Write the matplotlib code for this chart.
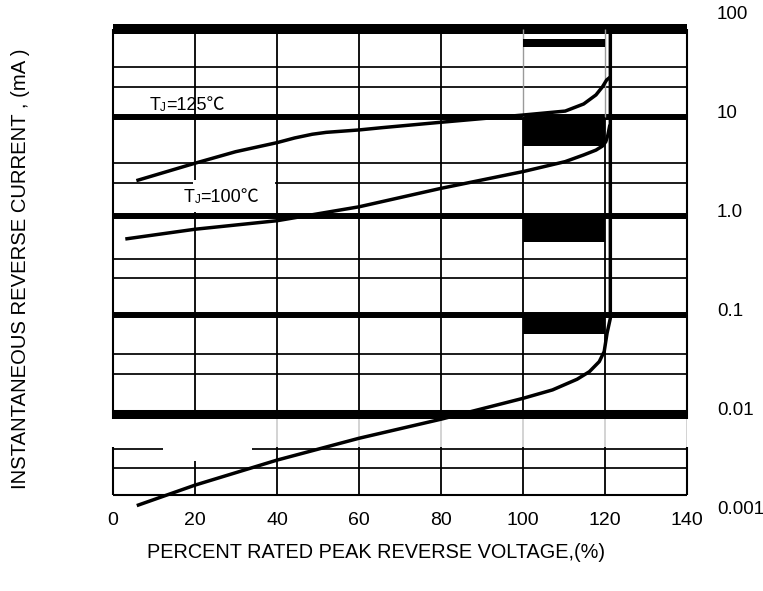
import numpy as np
import matplotlib
matplotlib.use("Agg")
import matplotlib.pyplot as plt

plt.rcParams['lines.solid_capstyle'] = 'butt'
FAM = ['Liberation Sans', 'Noto Sans CJK SC', 'DejaVu Sans']

# ---------------- data ----------------
x_ticks = [0, 20, 40, 60, 80, 100, 120, 140]
x_tick_labels = ['0', '20', '40', '60', '80', '100', '120', '140']
y_label_vals = [100, 10, 1, 0.1, 0.01, 0.001]
y_label_text = ['100', '10', '1.0', '0.1', '0.01', '0.001']

# T_J = 25 C curve (bottom), rises vertically near 121 %
x_25 = [5.8, 20, 40, 60, 80, 100, 107.2, 113.2, 116.2, 118.6, 119.8, 120.5, 121.3, 121.3]
i_25 = [0.00118, 0.0019, 0.0034, 0.00565, 0.0088, 0.0143, 0.0174, 0.0223, 0.0266,
        0.0336, 0.0424, 0.065, 0.092, 80]

# T_J = 100 C curve
x_100 = [3.0, 20, 40, 60, 80, 100, 110.3, 114.8, 117.8, 119.4, 120.2, 120.7, 121.2]
i_100 = [0.582, 0.73, 0.89, 1.23, 1.89, 2.79, 3.52, 4.11, 4.6, 5.06, 5.6, 6.54, 8.3]

# T_J = 125 C curve
x_125 = [5.7, 20, 29.9, 40, 44.3, 48.6, 52, 60, 65.6, 80, 100, 110.3, 114.8, 117.8,
         119.4, 120.4, 121.2]
i_125 = [2.26, 3.39, 4.43, 5.47, 6.1, 6.65, 6.95, 7.35, 7.75, 8.79, 10.4, 11.4, 13.45,
         16.6, 20.1, 23.5, 25.0]

# grid of the printed chart paper
major_lines = [10, 1, 0.1, 0.01]
major_widths = [4.3, 4.3, 4.3, 6.5]
minor_lines = [31.8, 20.0, 3.43, 2.16, 0.366, 0.233, 0.0398, 0.0254, 0.0044, 0.00281]
v_lines = [20, 40, 60, 80]
v_lines_split = [100, 120]

# black blocks between 100 % and 120 %
box_x = [100, 120]
box_lo = [50.7, 5.06, 0.547, 0.064]
box_hi = [61, 10, 1.0, 0.1]

Y_LO, Y_HI = 0.00151, 76.9

# ---------------- figure ----------------
fig = plt.figure(figsize=(7.63, 5.91), dpi=100)
ax = fig.add_axes([113 / 763, 96 / 591, 574 / 763, 466 / 591])
ax.set_yscale('log')
ax.set_xlim(0, 140)
ax.set_ylim(Y_LO, Y_HI)
for s in ax.spines.values():
    s.set_visible(False)
ax.yaxis.set_major_locator(matplotlib.ticker.NullLocator())
ax.yaxis.set_minor_locator(matplotlib.ticker.NullLocator())
ax.set_xticks(x_ticks)
ax.set_xticklabels(x_tick_labels, fontsize=14, family=FAM)
ax.tick_params(axis='x', length=0, pad=12)

# horizontal rules
ax.hlines(minor_lines, 0, 140, color='k', lw=1.25, zorder=1)
for y, lw in zip(major_lines, major_widths):
    ax.axhline(y, color='k', lw=lw, zorder=1)
ax.axhline(Y_HI, color='k', lw=7.2, zorder=1, clip_on=False)
ax.axhline(Y_LO, color='k', lw=1.5, zorder=1, clip_on=False)

# vertical rules
ax.axvline(0, color='k', lw=1.5, zorder=1, clip_on=False)
ax.axvline(140, color='k', lw=1.5, zorder=1, clip_on=False)
for x in v_lines:
    ax.axvline(x, color='k', lw=1.3, zorder=1)
for x in v_lines_split:
    ax.vlines(x, Y_LO, 10, color='k', lw=1.3, zorder=1)
    ax.vlines(x, 10, Y_HI, color='#9a9a9a', lw=1.0, zorder=1)

# black blocks
for lo, hi in zip(box_lo, box_hi):
    ax.fill_between(box_x, lo, hi, color='k', lw=0, zorder=1.5)

# white (erased) areas of the scanned paper
pa = ax.fill_between([-1, 141], 0.00462, 0.00885, color='white', lw=0, zorder=2)
pa.set_clip_on(False)
ax.fill_between([12.1, 33.8], 0.00333, 0.00885, color='white', lw=0, zorder=2)
ax.fill_between([19.6, 39.4], 1.08, 2.3, color='white', lw=0, zorder=2)
ax.vlines([40, 60, 80, 100, 120, 140], 0.00462, 0.00885, color='#c8c8c8', lw=1.1, zorder=2.1)

# curves
for xs, ys in ((x_25, i_25), (x_100, i_100), (x_125, i_125)):
    ax.plot(xs, ys, color='k', lw=2.5, solid_capstyle='butt', solid_joinstyle='round',
            zorder=3, clip_on=False)


def tj_label(x, y, temp):
    t1 = ax.text(x, y, 'T', fontsize=13, family=FAM, va='baseline', ha='left', zorder=5)
    t2 = ax.annotate('J', xy=(1, 0), xycoords=t1, xytext=(0.2, 0), textcoords='offset points',
                     fontsize=8.5, family=FAM, va='bottom', ha='left', zorder=5)
    ax.annotate('=' + temp + '\u2103', xy=(1, 0), xycoords=(t2, t1), xytext=(0.2, 0),
                textcoords='offset points', fontsize=13, family=FAM, va='bottom',
                ha='left', zorder=5)


tj_label(8.83, 11.7, '125')
tj_label(17.15, 1.377, '100')

# right-hand value labels
for v, lab in zip(y_label_vals, y_label_text):
    ax.annotate(lab, xy=(1, v), xycoords=('axes fraction', 'data'), xytext=(21.6, 2),
                textcoords='offset points', ha='left', va='center', fontsize=13.5,
                family=FAM, annotation_clip=False)

fig.text(376 / 763, 1 - 553 / 591, 'PERCENT RATED PEAK REVERSE VOLTAGE,(%)', ha='center',
         va='center', fontsize=14.3, family=FAM)
fig.text(21 / 763, 1 - 269 / 591, 'INSTANTANEOUS REVERSE CURRENT , (mA )', ha='center',
         va='center', rotation=90, fontsize=14.6, family=FAM)

fig.savefig('out.png', dpi=100)
